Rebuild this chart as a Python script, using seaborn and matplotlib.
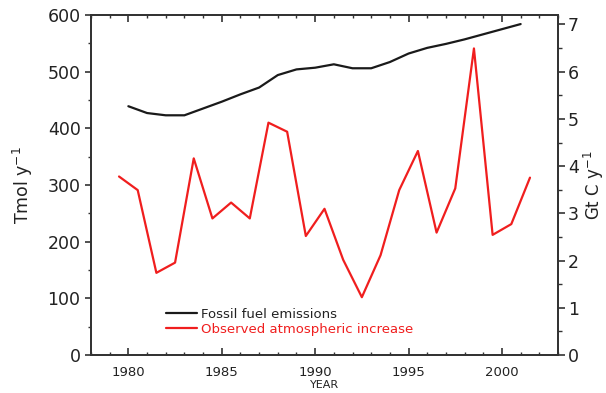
import matplotlib
matplotlib.use("Agg")
import matplotlib.pyplot as plt
import seaborn as sns
import pandas as pd
from matplotlib.ticker import MultipleLocator, FixedLocator
from matplotlib.lines import Line2D

# Fossil fuel emissions (Tmol C per year), annual
fossil_years = [1980, 1981, 1982, 1983, 1984, 1985, 1986, 1987, 1988, 1989, 1990,
                1991, 1992, 1993, 1994, 1995, 1996, 1997, 1998, 1999, 2000, 2001]
fossil_tmol = [439, 427, 423, 423, 435, 447, 460, 472, 494, 504, 507,
               513, 506, 506, 517, 532, 542, 549, 557, 566, 575, 584]

# Observed atmospheric increase (Tmol C per year), mid-year values
obs_years = [1979.5, 1980.5, 1981.5, 1982.5, 1983.5, 1984.5, 1985.5, 1986.5,
             1987.5, 1988.5, 1989.5, 1990.5, 1991.5, 1992.5, 1993.5, 1994.5,
             1995.5, 1996.5, 1997.5, 1998.5, 1999.5, 2000.5, 2001.5]
obs_tmol = [315, 291, 145, 163, 347, 241, 269, 241,
            410, 394, 210, 258, 168, 102, 176, 291,
            360, 216, 294, 541, 212, 231, 313]

x_ticks = [1980, 1985, 1990, 1995, 2000]
series_labels = ["Fossil fuel emissions", "Observed atmospheric increase"]

sns.set_style("ticks")
plt.rcParams["font.family"] = ["DejaVu Sans"]

TEXT = "#222222"
AXIS = "#333333"
RED = "#f01e1e"
BLACK = "#1a1a1a"

fig = plt.figure(figsize=(6.06, 3.93), dpi=100)
ax = fig.add_axes([91 / 606, 38 / 393, 467 / 606, 340 / 393])

df_f = pd.DataFrame({"year": fossil_years, "tmol": fossil_tmol})
df_o = pd.DataFrame({"year": obs_years, "tmol": obs_tmol})
sns.lineplot(data=df_f, x="year", y="tmol", ax=ax, color=BLACK, lw=1.6)
sns.lineplot(data=df_o, x="year", y="tmol", ax=ax, color=RED, lw=1.6)

ax.set_xlim(1978, 2003)
ax.set_ylim(0, 600)

for s in ax.spines.values():
    s.set_visible(True)
    s.set_linewidth(1.3)
    s.set_color(AXIS)

ax.xaxis.set_major_locator(FixedLocator(x_ticks))
ax.xaxis.set_minor_locator(MultipleLocator(1))
ax.yaxis.set_major_locator(MultipleLocator(100))
ax.yaxis.set_minor_locator(MultipleLocator(50))
ax.tick_params(axis="x", which="both", direction="in", top=True, bottom=True,
               labelsize=9.5, colors=AXIS, labelcolor=TEXT, pad=8)
ax.tick_params(axis="x", which="major", length=5, width=1.2)
ax.tick_params(axis="x", which="minor", length=2.5, width=1.0)
ax.tick_params(axis="y", which="both", direction="out", left=True, right=False,
               labelsize=12.5, colors=AXIS, labelcolor=TEXT, pad=3)
ax.tick_params(axis="y", which="major", length=4.5, width=1.2)
ax.tick_params(axis="y", which="minor", length=2.5, width=1.0)

ax.set_xlabel("YEAR", fontsize=8, color=TEXT, labelpad=0.5)
ax.set_ylabel("Tmol y$^{-1}$", fontsize=12.5, color=TEXT, labelpad=9)

# Right axis in Gt C per year (1 Tmol C = 0.012 Gt C)
ax2 = ax.twinx()
ax2.set_ylim(0, 600 * 0.012)
ax2.yaxis.set_major_locator(MultipleLocator(1))
ax2.yaxis.set_minor_locator(MultipleLocator(0.5))
ax2.tick_params(axis="y", which="both", direction="out", labelsize=12.5,
                colors=AXIS, labelcolor=TEXT, pad=2)
ax2.tick_params(axis="y", which="major", length=5, width=1.2)
ax2.tick_params(axis="y", which="minor", length=3, width=1.0)
for s in ax2.spines.values():
    s.set_linewidth(1.3)
    s.set_color(AXIS)
ax2.set_ylabel("Gt C y$^{-1}$", fontsize=12, color=TEXT, labelpad=2)

handles = [Line2D([], [], color=BLACK, lw=1.6), Line2D([], [], color=RED, lw=1.6)]
leg = ax.legend(handles, series_labels, loc="center left",
                bbox_to_anchor=(0.16, 0.098), frameon=False, fontsize=9.5,
                handlelength=2.35, handletextpad=0.35, labelspacing=0.15,
                borderpad=0.0, borderaxespad=0.0)
leg.get_texts()[0].set_color(TEXT)
leg.get_texts()[1].set_color(RED)

fig.savefig("out.png", dpi=100)
